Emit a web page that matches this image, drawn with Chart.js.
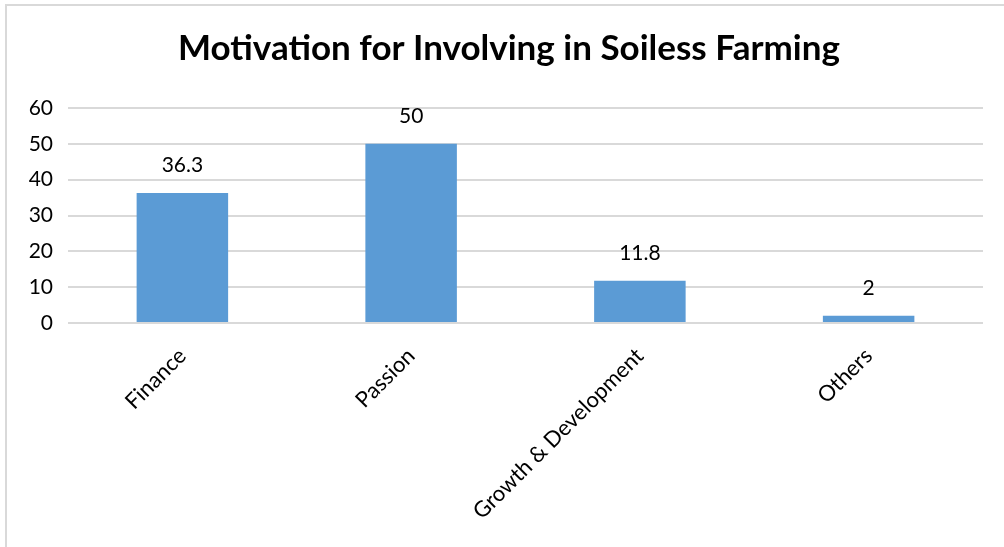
<!DOCTYPE html>
<html>
<head>
<meta charset="utf-8">
<script src="https://cdn.jsdelivr.net/npm/chart.js@4.4.0/dist/chart.umd.min.js"></script>
<style>
  html, body { margin: 0; padding: 0; background: #fff; }
  #wrap { position: relative; width: 1004px; height: 547px; overflow: hidden; }
  #frame { position: absolute; left: 5px; top: 4px; width: 1010px; height: 560px; border-top: 2px solid #d9d9d9; border-left: 2px solid #d9d9d9; box-sizing: border-box; pointer-events: none; }
  canvas { position: absolute; left: 0; top: 0; }
</style>
</head>
<body>
<div id="wrap">
  <canvas id="c" width="1004" height="547"></canvas>
  <div id="frame"></div>
</div>
<script>
const chartTitle = "Motivation for Involving in Soiless Farming";
const categories = ["Finance", "Passion", "Growth & Development", "Others"];
const values = [36.3, 50, 11.8, 2];
const valueLabels = ["36.3", "50", "11.8", "2"];
const yTicks = [0, 10, 20, 30, 40, 50, 60];

const FONT = "Lato, 'Open Sans', sans-serif";

const dataLabelPlugin = {
  id: 'dataLabels',
  beforeDraw(chart) {
    // center the title over the framed picture area rather than the full canvas
    const tb = chart.titleBlock;
    if (tb) { tb.left = 35; tb.width = tb.right - tb.left; }
  },
  afterDatasetsDraw(chart) {
    const ctx = chart.ctx;
    const meta = chart.getDatasetMeta(0);
    ctx.save();
    ctx.font = "21px " + FONT;
    ctx.fillStyle = "#000";
    ctx.textAlign = "center";
    ctx.textBaseline = "alphabetic";
    meta.data.forEach((bar, i) => {
      ctx.fillText(valueLabels[i], bar.x, bar.y - 21);
    });
    ctx.restore();
  }
};

new Chart(document.getElementById('c'), {
  type: 'bar',
  data: {
    labels: categories,
    datasets: [{
      data: values,
      backgroundColor: '#5B9BD5',
      borderWidth: 0,
      barPercentage: 0.4,
      categoryPercentage: 1.0
    }]
  },
  options: {
    responsive: false,
    animation: false,
    devicePixelRatio: 1,
    layout: { padding: { left: 0, right: 21, top: 0, bottom: 0 } },
    plugins: {
      legend: { display: false },
      tooltip: { enabled: false },
      title: {
        display: true,
        text: chartTitle,
        color: '#000',
        font: { family: FONT, size: 35, weight: 'bold', lineHeight: 1.2 },
        padding: { top: 28, bottom: 38 }
      }
    },
    scales: {
      y: {
        min: 0,
        max: 60,
        afterBuildTicks(scale) { scale.ticks = yTicks.map(v => ({ value: v })); },
        afterFit(scale) { scale.width = 68; },
        border: { display: false },
        grid: { color: '#d9d9d9', lineWidth: 2, drawTicks: false },
        ticks: { color: '#000', padding: 15, font: { family: FONT, size: 21 } }
      },
      x: {
        afterFit(scale) { scale.height = 224; },
        border: { display: false },
        grid: { display: false, drawTicks: false },
        ticks: {
          color: '#000',
          padding: 20,
          maxRotation: 45,
          minRotation: 45,
          autoSkip: false,
          font: { family: FONT, size: 22 }
        }
      }
    }
  },
  plugins: [dataLabelPlugin]
});
</script>
</body>
</html>
